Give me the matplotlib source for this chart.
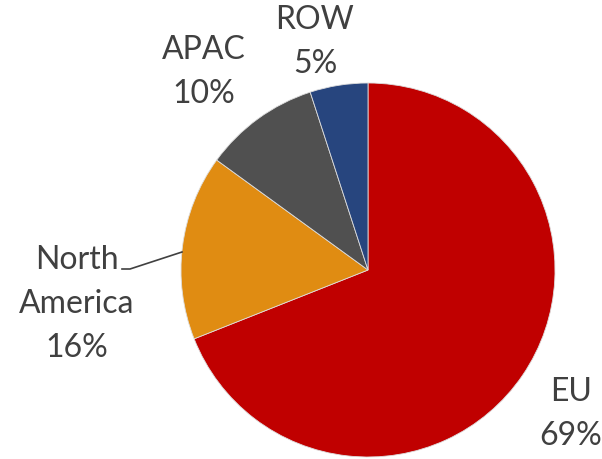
import matplotlib.pyplot as plt

# chart data
regions = ["EU", "North\nAmerica", "APAC", "ROW"]
shares = [69, 16, 10, 5]
colors = ["#C00000", "#E08C12", "#505050", "#27457E"]

W, H = 602, 459
plt.rcParams['font.family'] = ['Lato', 'DejaVu Sans']

fig = plt.figure(figsize=(W / 100, H / 100), dpi=100)
ax = fig.add_axes([0, 0, 1, 1])

cx, cy, r = 368, H - 270, 187
wedges, _ = ax.pie(shares, colors=colors, startangle=90, counterclock=False,
                   center=(cx, cy), radius=r, frame=True,
                   wedgeprops=dict(edgecolor="#dddddd", linewidth=0.6))
ax.set_xlim(0, W)
ax.set_ylim(0, H)
ax.set_aspect('equal')
ax.axis('off')

txt = "#404040"
fs = 23
# label positions (pixel coords, top-origin)
label_pos = [(571, 414), (77, 304), (204, 72), (315, 42)]
for name, val, (x, y) in zip(regions, shares, label_pos):
    ax.text(x, H - y, f"{name}\n{val}%", ha='center', va='center',
            fontsize=fs, color=txt, linespacing=1.6)

# leader line for North America
ax.plot([122, 130, 182], [H - 269, H - 269, H - 252], color=txt, lw=1.2)

fig.savefig("out.png", dpi=100)
